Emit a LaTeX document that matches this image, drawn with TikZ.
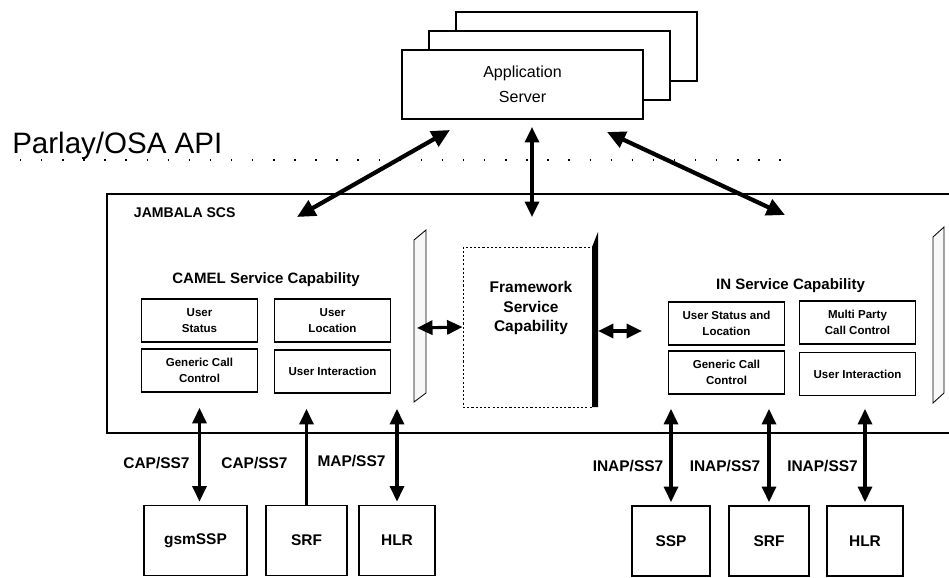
\documentclass[tikz,border=0pt]{standalone}
\usepackage{fontspec}
\setmainfont{Liberation Sans}
\usetikzlibrary{arrows.meta,calc}

\tikzset{
  box/.style={draw, line width=1.3pt, fill=white, inner sep=0pt},
  srvbox/.style={box, minimum width=6.025cm, minimum height=1.725cm},
  capbox/.style={box, minimum width=2.9cm, minimum height=1.075cm, align=center,
    font=\fontsize{8.2}{11}\selectfont\bfseries},
  nebox/.style={box, minimum height=1.75cm, font=\fontsize{11}{13}\selectfont\bfseries},
  dconn/.style={line width=2.2pt, {Triangle[width=10pt,length=11pt]}-{Triangle[width=10pt,length=11pt]}},
  uconn/.style={line width=2.2pt, -{Triangle[width=10pt,length=11pt]}},
  bigconn/.style={line width=3pt, {Triangle[width=12pt,length=13pt]}-{Triangle[width=12pt,length=13pt]}},
  lbl/.style={font=\fontsize{11}{13}\selectfont\bfseries},
  title/.style={font=\fontsize{10.7}{13}\selectfont\bfseries},
  plate/.style={draw, line width=0.6pt, fill=gray!6},
}

\begin{document}
\begin{tikzpicture}[x=0.025cm, y=-0.025cm]
  \useasboundingbox (0,0) rectangle (949,578);

  % application servers
  \node[srvbox] (appsrv3) at (576.5,46.5) {};
  \node[srvbox] (appsrv2) at (549.5,65.5) {};
  \node[srvbox, align=center, font=\fontsize{11.4}{17.8}\selectfont] (appsrv) at (522.5,84.5) {Application\\Server};

  % api line
  \node[anchor=base west, inner sep=0pt, font=\fontsize{21}{24}\selectfont] (api) at (12,153) {Parlay/OSA API};
  \draw[line width=1pt, dash pattern=on 1pt off 14pt] (20,160) -- (790,160);

  % scs frame, open on the right
  \draw[line width=1.3pt] (949,194) -- (107,194) -- (107,433) -- (949,433);
  \node[anchor=west, font=\fontsize{10}{12}\selectfont\bfseries] (scs) at (129,213) {JAMBALA SCS};

  % camel
  \node[title] (camel) at (266,280) {CAMEL Service Capability};
  \node[capbox] (cus) at (199.5,320.5) {User\\Status};
  \node[capbox] (cul) at (332.5,320.5) {User\\Location};
  \node[capbox] (cgcc) at (199.5,370.5) {Generic Call\\Control};
  \node[capbox] (cui) at (332.5,371.5) {User Interaction};

  % plates
  \draw[plate] (414,240) -- (426,230) -- (426,393) -- (414,402) -- cycle;
  \coordinate (plateL) at (417,328);
  \draw[plate] (933,237) -- (944,227) -- (944,393) -- (933,403) -- cycle;

  % framework
  \node[draw, line width=0.6pt, dash pattern=on 1.5pt off 1.5pt, minimum width=3.225cm,
    minimum height=4cm] (fw) at (527.5,327) {};
  \fill (592,247) -- (598,232) -- (598,407) -- (592,407) -- cycle;
  \node[align=center, font=\fontsize{11}{13.9}\selectfont\bfseries] (fwtxt) at (531,308) {Framework\\Service\\Capability};
  \coordinate (fwside) at (598,331);
  \coordinate (inL) at (642,331);

  % in
  \node[title] (insc) at (790.5,286) {IN Service Capability};
  \node[capbox] (ius) at (726.5,323.5) {User Status and\\Location};
  \node[capbox] (imp) at (857.5,322.5) {Multi Party\\Call Control};
  \node[capbox] (igcc) at (726.5,372.5) {Generic Call\\Control};
  \node[capbox] (iui) at (857.5,374) {User Interaction};

  \draw[dconn] (plateL) -- (fw.west);
  \draw[dconn] (fwside) -- (inL);

  % api arrows
  \coordinate (asL) at (450,130);
  \coordinate (asC) at (532,127);
  \coordinate (asR) at (607,132);
  \coordinate (scsL) at (297,217);
  \coordinate (scsC) at (532,217);
  \coordinate (scsR) at (785,215);
  \draw[bigconn] (asL) -- (scsL);
  \draw[dconn] (asC) -- (scsC);
  \draw[bigconn] (asR) -- (scsR);

  % network elements
  \node[nebox, minimum width=2.575cm] (gsmssp) at (195.5,540.5) {gsmSSP};
  \node[nebox, minimum width=2.025cm] (srfA) at (306.5,540.5) {SRF};
  \node[nebox, minimum width=1.9cm] (hlrA) at (397,540.5) {HLR};
  \node[nebox, minimum width=1.95cm] (ssp) at (671,541) {SSP};
  \node[nebox, minimum width=2.0cm] (srfB) at (769,541) {SRF};
  \node[nebox, minimum width=1.9cm] (hlrB) at (865,541) {HLR};

  \draw[dconn] ($(cgcc.south |- gsmssp.north)+(0,-3)$) -- ($(cgcc.south)+(0,15)$);
  \draw[uconn] (srfA.north) -- ($(srfA.north |- cui.south)+(0,15)$);
  \draw[dconn] ($(hlrA.north)+(0,-3)$) -- ($(hlrA.north |- cui.south)+(0,15)$);
  \draw[dconn] ($(ssp.north)+(0,-3)$) -- ($(ssp.north |- igcc.south)+(0,14)$);
  \draw[dconn] ($(srfB.north)+(0,-3)$) -- ($(srfB.north |- igcc.south)+(0,14)$);
  \draw[dconn] ($(hlrB.north)+(0,-3)$) -- ($(hlrB.north |- igcc.south)+(0,14)$);

  \node[lbl] (capA) at (156.5,463) {CAP/SS7};
  \node[lbl] (capB) at (254.5,463) {CAP/SS7};
  \node[lbl] (map) at (351.5,461) {MAP/SS7};
  \node[lbl] (inapA) at (628,466) {INAP/SS7};
  \node[lbl] (inapB) at (725,466) {INAP/SS7};
  \node[lbl] (inapC) at (822.5,466) {INAP/SS7};
\end{tikzpicture}
\end{document}
